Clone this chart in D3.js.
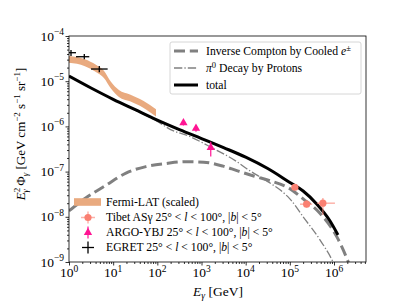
<!DOCTYPE html>
<html>
<head>
<meta charset="utf-8">
<script src="https://cdn.jsdelivr.net/npm/d3@7"></script>
<style>
body { margin: 0; background: #fff; }
svg { font-family: "Liberation Serif", "DejaVu Serif", serif; }
</style>
</head>
<body>
<svg width="407" height="305"></svg>
<script>
// ---- data (GeV, GeV cm^-2 s^-1 sr^-1) ----
var totalE = [1, 3.16, 10, 31.6, 100, 316, 1000, 3160, 1e4, 3.16e4, 1e5, 2e5, 4e5, 8e5, 1.23e6];
var totalF = [1.30e-5, 7.08e-6, 3.98e-6, 2.34e-6, 1.38e-6, 8.5e-7, 5.37e-7, 3.39e-7, 2.09e-7, 1.17e-7, 5.75e-8, 3.72e-8, 1.95e-8, 8.3e-9, 3.98e-9];

var pionE = [1, 3.16, 10, 31.6, 100, 200, 560, 1780, 6300, 1e4, 3.16e4, 6.3e4, 1e5, 2e5, 4.8e5, 9.5e5, 1.12e6];
var pionF = [1.30e-5, 7.05e-6, 3.94e-6, 2.29e-6, 1.29e-6, 8.5e-7, 5.9e-7, 3.3e-7, 1.66e-7, 1.20e-7, 6.0e-8, 3.8e-8, 2.5e-8, 1.0e-8, 3.1e-9, 1.0e-9, 7e-10];

var icE = [1, 2.43, 6.9, 19.5, 55, 158, 447, 1120, 3090, 6300, 1.58e4, 3.55e4, 1e5, 2e5, 4.8e5, 1.17e6, 2.1e6, 2.5e6];
var icF = [1.35e-8, 2.63e-8, 5.0e-8, 9.3e-8, 1.29e-7, 1.51e-7, 1.66e-7, 1.62e-7, 1.32e-7, 1.05e-7, 7.9e-8, 6.3e-8, 4.2e-8, 2.5e-8, 1.2e-8, 3.55e-9, 1.0e-9, 6.3e-10];

var fermiE  = [1, 2.29, 4.07, 6.17, 8.9, 13.5, 24, 47.9, 93.3];
var fermiHi = [3.6e-5, 3.05e-5, 2.3e-5, 1.7e-5, 9.7e-6, 6.4e-6, 5.1e-6, 3.7e-6, 2.4e-6];
var fermiLo = [2.55e-5, 2.15e-5, 1.6e-5, 1.18e-5, 6.9e-6, 4.5e-6, 3.6e-6, 2.6e-6, 1.66e-6];

// Tibet AS-gamma
var tibetE   = [1.3e5, 2.4e5, 5.6e5];
var tibetF   = [4.5e-8, 1.9e-8, 2.0e-8];
var tibetElo = [1.2e5, 1.7e5, 4.1e5];
var tibetEhi = [1.45e5, 3.2e5, 1.05e6];
var tibetFlo = [4.1e-8, 1.6e-8, 1.1e-8];
var tibetFhi = [4.9e-8, 2.3e-8, 2.6e-8];

// ARGO-YBJ
var argoE   = [390, 750, 1620];
var argoF   = [1.2e-6, 9.1e-7, 3.4e-7];
var argoFlo = [1.05e-6, 7.6e-7, 2.15e-7];
var argoFhi = [1.35e-6, 1.05e-6, 4.6e-7];

// EGRET
var egretE   = [1.11, 2.22, 4.85];
var egretF   = [4.27e-5, 3.48e-5, 1.86e-5];
var egretElo = [0.75, 1.44, 3.15];
var egretEhi = [1.44, 2.88, 7.5];
var egretFlo = [3.6e-5, 3.05e-5, 1.58e-5];
var egretFhi = [4.9e-5, 4.0e-5, 2.17e-5];

var xMajor = [1, 1e1, 1e2, 1e3, 1e4, 1e5, 1e6];
var xMajorExp = ["0", "1", "2", "3", "4", "5", "6"];
var yMajor = [1e-9, 1e-8, 1e-7, 1e-6, 1e-5, 1e-4];
var yMajorExp = ["\u22129", "\u22128", "\u22127", "\u22126", "\u22125", "\u22124"];

// ---- layout ----
var svg = d3.select("svg");
var L = 69, R = 366, T = 36, B = 262;

var x = d3.scaleLog().domain([1, 5.3e6]).range([L, R]);
var y = d3.scaleLog().domain([1e-9, 1e-4]).range([B, T]);

svg.append("defs").append("clipPath").attr("id", "clip")
    .append("rect").attr("x", L).attr("y", T).attr("width", R - L).attr("height", B - T);

var plot = svg.append("g").attr("clip-path", "url(#clip)");

// minor ticks positions
function minorTicks(lo, hi) {
    var out = [];
    for (var k = Math.floor(Math.log10(lo)); k <= Math.ceil(Math.log10(hi)); k++) {
        for (var m = 2; m <= 9; m++) {
            var v = m * Math.pow(10, k);
            if (v > lo && v < hi) out.push(v);
        }
    }
    return out;
}

function styleAxis(g) {
    g.select(".domain").remove();
    g.selectAll("line").attr("stroke", "#000").attr("stroke-width", 0.8);
}

svg.append("g").attr("transform", "translate(0," + B + ")")
    .call(d3.axisBottom(x).tickValues(minorTicks(1, 5.3e6)).tickSize(2).tickFormat(""))
    .call(styleAxis);
svg.append("g").attr("transform", "translate(0," + B + ")")
    .call(d3.axisBottom(x).tickValues(xMajor).tickSize(3.5).tickFormat(""))
    .call(styleAxis);
svg.append("g").attr("transform", "translate(" + L + ",0)")
    .call(d3.axisLeft(y).tickValues(minorTicks(1e-9, 1e-4)).tickSize(2).tickFormat(""))
    .call(styleAxis);
svg.append("g").attr("transform", "translate(" + L + ",0)")
    .call(d3.axisLeft(y).tickValues(yMajor).tickSize(3.5).tickFormat(""))
    .call(styleAxis);

// tick labels
xMajor.forEach(function (v, i) {
    var t = svg.append("text").attr("x", x(v)).attr("y", 277)
        .attr("text-anchor", "middle").attr("font-size", 13.5).attr("fill", "#000");
    t.append("tspan").text("10");
    t.append("tspan").attr("dy", -5.5).attr("font-size", 9.5).text(xMajorExp[i]);
});
yMajor.forEach(function (v, i) {
    var t = svg.append("text").attr("x", 64).attr("y", y(v) + 4.5)
        .attr("text-anchor", "end").attr("font-size", 13.5).attr("fill", "#000");
    t.append("tspan").text("10");
    t.append("tspan").attr("dy", -5.5).attr("font-size", 9.5).text(yMajorExp[i]);
});

// axis labels
var xl = svg.append("text").attr("x", 218).attr("y", 296).attr("text-anchor", "middle")
    .attr("font-size", 13.5).attr("fill", "#000");
xl.append("tspan").attr("font-style", "italic").text("E");
xl.append("tspan").attr("dy", 3).attr("font-size", 9.5).attr("font-style", "italic").text("\u03b3");
xl.append("tspan").attr("dy", -3).text(" [GeV]");

var yl = svg.append("text").attr("transform", "translate(25,134) rotate(-90)")
    .attr("text-anchor", "middle").attr("font-size", 13).attr("fill", "#000");
yl.append("tspan").attr("font-style", "italic").text("E");
yl.append("tspan").attr("dy", -5).attr("font-size", 9).text("2");
yl.append("tspan").attr("dx", -4.8).attr("dy", 8).attr("font-size", 9).attr("font-style", "italic").text("\u03b3");
yl.append("tspan").attr("dy", -3).text(" \u03a6");
yl.append("tspan").attr("dy", 3).attr("font-size", 9).attr("font-style", "italic").text("\u03b3");
yl.append("tspan").attr("dy", -3).text(" [GeV cm");
yl.append("tspan").attr("dy", -5).attr("font-size", 9).text("\u22122");
yl.append("tspan").attr("dy", 5).text(" s");
yl.append("tspan").attr("dy", -5).attr("font-size", 9).text("\u22121");
yl.append("tspan").attr("dy", 5).text(" sr");
yl.append("tspan").attr("dy", -5).attr("font-size", 9).text("\u22121");
yl.append("tspan").attr("dy", 5).text("]");

// ---- marks ----
var fermiColor = "#e9aa7f";
var area = d3.area().curve(d3.curveMonotoneX)
    .x(function (d) { return x(d[0]); })
    .y0(function (d) { return y(d[1]); })
    .y1(function (d) { return y(d[2]); });
plot.append("path")
    .datum(fermiE.map(function (e, i) { return [e, fermiLo[i], fermiHi[i]]; }))
    .attr("d", area).attr("fill", fermiColor);

var line = d3.line().curve(d3.curveMonotoneX)
    .x(function (d) { return x(d[0]); })
    .y(function (d) { return y(d[1]); });
function zip(a, b) { return a.map(function (v, i) { return [v, b[i]]; }); }

plot.append("path").datum(zip(icE, icF)).attr("d", line)
    .attr("fill", "none").attr("stroke", "#808080").attr("stroke-width", 3)
    .attr("stroke-dasharray", "11,4.8");
plot.append("path").datum(zip(pionE, pionF)).attr("d", line)
    .attr("fill", "none").attr("stroke", "#808080").attr("stroke-width", 1.3)
    .attr("stroke-dasharray", "8.3,2.1,1.3,2.1");
plot.append("path").datum(zip(totalE, totalF)).attr("d", line)
    .attr("fill", "none").attr("stroke", "#000").attr("stroke-width", 3);

// EGRET crosses
var eg = plot.append("g").attr("stroke", "#000").attr("stroke-width", 1.3);
egretE.forEach(function (e, i) {
    eg.append("line").attr("x1", x(egretElo[i])).attr("x2", x(egretEhi[i]))
        .attr("y1", y(egretF[i])).attr("y2", y(egretF[i]));
    eg.append("line").attr("x1", x(e)).attr("x2", x(e))
        .attr("y1", y(egretFlo[i])).attr("y2", y(egretFhi[i]));
});

// ARGO triangles
var argoColor = "#ff1493";
var ag = plot.append("g");
argoE.forEach(function (e, i) {
    ag.append("line").attr("x1", x(e)).attr("x2", x(e))
        .attr("y1", y(argoFlo[i])).attr("y2", y(argoFhi[i]))
        .attr("stroke", argoColor).attr("stroke-width", 1.2);
    ag.append("path").attr("d", d3.symbol(d3.symbolTriangle, 30)())
        .attr("transform", "translate(" + x(e) + "," + y(argoF[i]) + ")")
        .attr("fill", argoColor);
});

// Tibet circles
var tibetColor = "#fa8072";
var tg = plot.append("g");
tibetE.forEach(function (e, i) {
    tg.append("line").attr("x1", x(tibetElo[i])).attr("x2", x(tibetEhi[i]))
        .attr("y1", y(tibetF[i])).attr("y2", y(tibetF[i]))
        .attr("stroke", tibetColor).attr("stroke-opacity", 0.6).attr("stroke-width", 1.5);
    tg.append("line").attr("x1", x(e)).attr("x2", x(e))
        .attr("y1", y(tibetFlo[i])).attr("y2", y(tibetFhi[i]))
        .attr("stroke", tibetColor).attr("stroke-opacity", 0.6).attr("stroke-width", 1.5);
    tg.append("circle").attr("cx", x(e)).attr("cy", y(tibetF[i])).attr("r", 3.6)
        .attr("fill", tibetColor);
});

// frame
svg.append("rect").attr("x", L).attr("y", T).attr("width", R - L).attr("height", B - T)
    .attr("fill", "none").attr("stroke", "#000").attr("stroke-width", 0.8);

// ---- legend 1 (models) ----
var lg1 = svg.append("g");
lg1.append("rect").attr("x", 170).attr("y", 42).attr("width", 191).attr("height", 52)
    .attr("rx", 2).attr("fill", "#fff").attr("fill-opacity", 0.8)
    .attr("stroke", "#cccccc").attr("stroke-width", 0.8);
var lgRows = [51, 68, 85];
lg1.append("line").attr("x1", 174).attr("x2", 198).attr("y1", lgRows[0]).attr("y2", lgRows[0])
    .attr("stroke", "#808080").attr("stroke-width", 3).attr("stroke-dasharray", "11,4.8");
lg1.append("line").attr("x1", 174).attr("x2", 198).attr("y1", lgRows[1]).attr("y2", lgRows[1])
    .attr("stroke", "#808080").attr("stroke-width", 1.3).attr("stroke-dasharray", "8.3,2.1,1.3,2.1");
lg1.append("line").attr("x1", 174).attr("x2", 198).attr("y1", lgRows[2]).attr("y2", lgRows[2])
    .attr("stroke", "#000").attr("stroke-width", 3);

var fs = 11.7;
var t1 = lg1.append("text").attr("x", 206).attr("y", lgRows[0] + 3.8).attr("font-size", fs);
t1.append("tspan").text("Inverse Compton by Cooled ");
t1.append("tspan").attr("font-style", "italic").text("e");
t1.append("tspan").attr("dy", -4).attr("font-size", 8.5).text("\u00b1");
var t2 = lg1.append("text").attr("x", 206).attr("y", lgRows[1] + 3.8).attr("font-size", fs);
t2.append("tspan").attr("font-style", "italic").text("\u03c0");
t2.append("tspan").attr("dy", -4).attr("font-size", 8.5).text("0");
t2.append("tspan").attr("dy", 4).text(" Decay by Protons");
lg1.append("text").attr("x", 206).attr("y", lgRows[2] + 3.8).attr("font-size", fs).text("total");

// ---- legend 2 (data) ----
var lg2 = svg.append("g");
var rows2 = [202, 217.5, 232.5, 247.5];
lg2.append("rect").attr("x", 74).attr("y", rows2[0] - 3.8).attr("width", 27).attr("height", 7.6)
    .attr("fill", fermiColor);
// tibet marker
lg2.append("line").attr("x1", 81).attr("x2", 95).attr("y1", rows2[1]).attr("y2", rows2[1])
    .attr("stroke", tibetColor).attr("stroke-opacity", 0.6).attr("stroke-width", 1.5);
lg2.append("line").attr("x1", 88).attr("x2", 88).attr("y1", rows2[1] - 6).attr("y2", rows2[1] + 6)
    .attr("stroke", tibetColor).attr("stroke-opacity", 0.6).attr("stroke-width", 1.5);
lg2.append("circle").attr("cx", 88).attr("cy", rows2[1]).attr("r", 3.6).attr("fill", tibetColor);
// argo marker
lg2.append("line").attr("x1", 88).attr("x2", 88).attr("y1", rows2[2] - 6).attr("y2", rows2[2] + 6)
    .attr("stroke", argoColor).attr("stroke-width", 1.2);
lg2.append("path").attr("d", d3.symbol(d3.symbolTriangle, 30)())
    .attr("transform", "translate(88," + rows2[2] + ")").attr("fill", argoColor);
// egret marker
lg2.append("line").attr("x1", 82).attr("x2", 94).attr("y1", rows2[3]).attr("y2", rows2[3])
    .attr("stroke", "#000").attr("stroke-width", 1.3);
lg2.append("line").attr("x1", 88).attr("x2", 88).attr("y1", rows2[3] - 6).attr("y2", rows2[3] + 6)
    .attr("stroke", "#000").attr("stroke-width", 1.3);

lg2.append("text").attr("x", 106).attr("y", rows2[0] + 3.8).attr("font-size", fs).text("Fermi-LAT (scaled)");
function regionText(yy, name) {
    var t = lg2.append("text").attr("x", 106).attr("y", yy + 3.8).attr("font-size", fs);
    t.append("tspan").text(name + " 25\u00b0 < ");
    t.append("tspan").attr("font-style", "italic").text("l");
    t.append("tspan").text(" < 100\u00b0, |");
    t.append("tspan").attr("font-style", "italic").text("b");
    t.append("tspan").text("| < 5\u00b0");
    return t;
}
regionText(rows2[1], "Tibet AS\u03b3");
regionText(rows2[2], "ARGO-YBJ");
regionText(rows2[3], "EGRET");
</script>
</body>
</html>
